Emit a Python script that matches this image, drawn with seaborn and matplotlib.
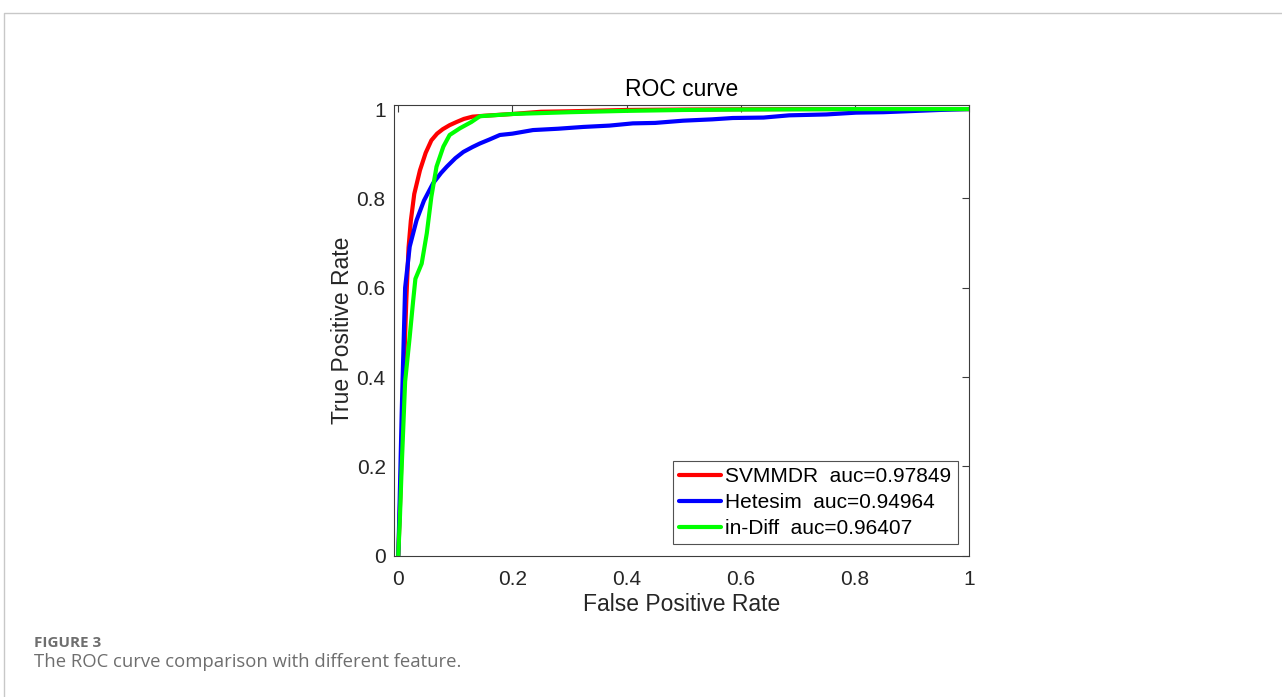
import pandas as pd
import matplotlib.pyplot as plt
import seaborn as sns
from matplotlib.lines import Line2D
from matplotlib.ticker import FuncFormatter

# ROC points

svm_fpr = [0, 0.004, 0.009, 0.014, 0.018, 0.022, 0.028, 0.038, 0.048, 0.058, 0.068,
           0.078, 0.09, 0.102, 0.115, 0.13, 0.15, 0.2, 0.25, 0.3, 0.4, 0.5, 0.7, 1.0]
svm_tpr = [0, 0.15, 0.38, 0.57, 0.69, 0.75, 0.81, 0.863, 0.902, 0.93, 0.945,
           0.955, 0.964, 0.971, 0.978, 0.983, 0.985, 0.989, 0.994, 0.995, 0.998, 0.999, 1.0, 1.0]

het_fpr = [0, 0.002, 0.006, 0.012, 0.02, 0.032, 0.045, 0.061, 0.075, 0.085, 0.1, 0.114,
           0.13, 0.143, 0.16, 0.178, 0.2, 0.236, 0.28, 0.324, 0.37, 0.411, 0.45, 0.499,
           0.55, 0.586, 0.64, 0.685, 0.75, 0.802, 0.85, 0.889, 0.948, 1.0]
het_tpr = [0, 0.1, 0.32, 0.6, 0.692, 0.751, 0.795, 0.834, 0.857, 0.871, 0.89, 0.904,
           0.915, 0.923, 0.932, 0.942, 0.945, 0.953, 0.956, 0.96, 0.963, 0.968, 0.969, 0.974,
           0.977, 0.98, 0.981, 0.986, 0.988, 0.992, 0.993, 0.995, 0.998, 1.0]

diff_fpr = [0, 0.003, 0.006, 0.012, 0.02, 0.026, 0.03, 0.041, 0.05, 0.058, 0.067, 0.079,
            0.09, 0.108, 0.128, 0.143, 0.2, 0.3, 0.4, 0.5, 0.6, 0.8, 1.0]
diff_tpr = [0, 0.09, 0.2, 0.39, 0.49, 0.57, 0.62, 0.654, 0.722, 0.804, 0.871, 0.916,
            0.942, 0.957, 0.971, 0.984, 0.989, 0.993, 0.996, 0.998, 0.999, 1.0, 1.0]

labels = ["SVMMDR  auc=0.97849", "Hetesim  auc=0.94964", "in-Diff  auc=0.96407"]
colors = ["#ff0000", "#0000ff", "#00ff00"]

sns.set_theme(style="white")
plt.rcParams["font.family"] = ["Liberation Sans", "DejaVu Sans"]

fig = plt.figure(figsize=(12.82, 6.97), dpi=100)
ax = fig.add_axes([394/1282, 1-555.7/697, 575/1282, 451/697])

curves = [(svm_fpr, svm_tpr), (het_fpr, het_tpr), (diff_fpr, diff_tpr)]
for (fx, fy), lab, col in zip(curves, labels, colors):
    d = pd.DataFrame({"fpr": fx, "tpr": fy})
    sns.lineplot(x="fpr", y="tpr", data=d, sort=False, estimator=None, color=col,
                 lw=3.0, label=lab, ax=ax)

ax.set_xlim(-0.0075, 1.0)
ax.set_ylim(0, 1.0098)
ax.set_xticks([0, 0.2, 0.4, 0.6, 0.8, 1])
ax.set_yticks([0, 0.2, 0.4, 0.6, 0.8, 1])
fmt = FuncFormatter(lambda v, p: "%g" % v)
ax.xaxis.set_major_formatter(fmt)
ax.yaxis.set_major_formatter(fmt)
ax.tick_params(direction="in", top=True, right=True, length=5, width=0.8,
               color="#3c3c3c", labelcolor="#262626", labelsize=15)
ax.tick_params(axis="x", pad=10)
ax.tick_params(axis="y", pad=6)
for s in ax.spines.values():
    s.set_color("#3c3c3c")
    s.set_linewidth(0.8)

ax.set_title("ROC curve", fontsize=16.5, color="#000000", pad=6)
ax.set_xlabel("False Positive Rate", fontsize=16.5, color="#262626", labelpad=3)
ax.set_ylabel("True Positive Rate", fontsize=16.5, color="#262626", labelpad=1.5)

leg = ax.legend(loc="lower right", fontsize=15, frameon=True, fancybox=False,
                handlelength=2.0, handletextpad=0.2, labelspacing=0.33,
                borderpad=0.3, borderaxespad=0.55)
leg.get_frame().set_edgecolor("#262626")
leg.get_frame().set_linewidth(0.8)
for t in leg.get_texts():
    t.set_color("#000000")

# page frame and caption
fig.add_artist(Line2D([4/1282, 4/1282, 1.0], [0.0, 1-13/697, 1-13/697],
                      transform=fig.transFigure, color="#c8c8c8", lw=1))
fig.text(34/1282, 1-643/697, "FIGURE 3", fontsize=11, fontweight="bold",
         color="#6e6e6e", va="center", family=["Open Sans", "DejaVu Sans"])
fig.text(34/1282, 1-662/697, "The ROC curve comparison with different feature.",
         fontsize=13.3, color="#6e6e6e", va="center", family=["Open Sans", "DejaVu Sans"])

plt.savefig("out.png", dpi=100)
